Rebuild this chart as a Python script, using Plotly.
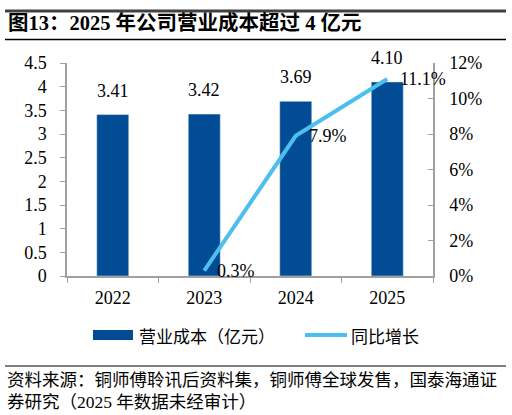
import plotly.graph_objects as go

years = ["2022", "2023", "2024", "2025"]
cost = [3.41, 3.42, 3.69, 4.10]
growth_years = ["2023", "2024", "2025"]
growth = [0.003, 0.079, 0.111]
cost_labels = ["3.41", "3.42", "3.69", "4.10"]
growth_labels = ["0.3%", "7.9%", "11.1%"]
bar_name = "营业成本（亿元）"
line_name = "同比增长"
title_text = "图13：2025 年公司营业成本超过 4 亿元"
source_lines = ["资料来源：铜师傅聆讯后资料集，铜师傅全球发售，国泰海通证",
                "券研究（2025 年数据未经审计）"]

BAR_C = "#024C96"
LINE_C = "#4DBFEF"
AX_C = "#A0A0A0"
SERIF = "Liberation Serif, Noto Sans CJK SC"
CJK = "Noto Sans CJK SC"
NUM = 18

W, H = 512, 415
L, R, T, B = 67, 433, 63, 276


def X(px):
    return (px - L) / (R - L)


def Y(py):
    return (B - py) / (B - T)


fig = go.Figure()
fig.add_trace(go.Bar(x=years, y=cost, marker_color=BAR_C, name=bar_name,
                     showlegend=False, yaxis="y"))
fig.add_trace(go.Scatter(x=growth_years, y=growth, mode="lines",
                         line=dict(color=LINE_C, width=4), name=line_name,
                         showlegend=False, yaxis="y2"))

ann = []
for x, v, t in zip(years, cost, cost_labels):
    ann.append(dict(x=years.index(x), y=v, xref="x", yref="y", text=t, showarrow=False,
                    yanchor="bottom", yshift=12,
                    font=dict(family=SERIF, size=NUM, color="#000")))
for x, v, t in zip(growth_years, growth, growth_labels):
    ann.append(dict(x=years.index(x), y=v, xref="x", yref="y2", text=t, showarrow=False,
                    xanchor="left", xshift=11,
                    font=dict(family=SERIF, size=NUM, color="#000")))

# title
ann.append(dict(x=X(6), y=Y(23), xref="paper", yref="paper", text="<b>" + title_text + "</b>",
                showarrow=False, xanchor="left", yanchor="middle",
                font=dict(family=SERIF, size=20.5, color="#000")))
# legend texts
ann.append(dict(x=X(137), y=Y(335), xref="paper", yref="paper", text=bar_name,
                showarrow=False, xanchor="left", yanchor="middle",
                font=dict(family=CJK, size=17, color="#000")))
ann.append(dict(x=X(349), y=Y(335), xref="paper", yref="paper", text=line_name,
                showarrow=False, xanchor="left", yanchor="middle",
                font=dict(family=CJK, size=17, color="#000")))
# source
for i, s in enumerate(source_lines):
    ann.append(dict(x=X(5), y=Y(380 + 22 * i), xref="paper", yref="paper", text=s,
                    showarrow=False, xanchor="left", yanchor="middle",
                    font=dict(family=SERIF, size=17.5, color="#000")))

shapes = [
    dict(type="line", xref="paper", yref="paper", x0=X(5), x1=X(506), y0=Y(11), y1=Y(11),
         line=dict(color="#404040", width=3)),
    dict(type="line", xref="paper", yref="paper", x0=X(5), x1=X(506), y0=Y(39.5), y1=Y(39.5),
         line=dict(color="#000", width=1.3)),
    dict(type="rect", xref="paper", yref="paper", x0=X(93), x1=X(133), y0=Y(330), y1=Y(340),
         fillcolor=BAR_C, line=dict(width=0)),
    dict(type="line", xref="paper", yref="paper", x0=X(305), x1=X(347), y0=Y(335), y1=Y(335),
         line=dict(color=LINE_C, width=4)),
    dict(type="line", xref="paper", yref="paper", x0=X(5), x1=X(506), y0=Y(366), y1=Y(366),
         line=dict(color="#808080", width=2)),
]

fig.update_layout(
    width=W, height=H,
    margin=dict(l=L, r=W - R, t=T, b=H - B, pad=0),
    paper_bgcolor="white", plot_bgcolor="white",
    bargap=0.65, showlegend=False,
    font=dict(family=SERIF, size=NUM, color="#000"),
    xaxis=dict(type="category", range=[-0.5, len(years) - 0.5], autorange=False,
               showgrid=False, showline=True, linecolor=AX_C, linewidth=1.5,
               ticks="outside", tickson="boundaries", ticklen=5, tickcolor=AX_C,
               ticklabelstandoff=5, tickangle=0, tickfont=dict(family=SERIF, size=NUM)),
    yaxis=dict(range=[0, 4.5], dtick=0.5, showgrid=False, showline=True, linecolor=AX_C,
               linewidth=1.5, ticks="outside", ticklen=5, tickcolor=AX_C, zeroline=False,
               ticklabelstandoff=10, tickfont=dict(family=SERIF, size=NUM)),
    yaxis2=dict(range=[0, 0.12], dtick=0.02, tickformat=".0%", overlaying="y", side="right",
                showgrid=False, showline=True, linecolor=AX_C, linewidth=1.5, ticks="inside",
                ticklen=5, tickcolor=AX_C, zeroline=False, ticklabelstandoff=11,
                tickfont=dict(family=SERIF, size=NUM)),
    annotations=ann, shapes=shapes,
)

fig.write_html("out.html")
